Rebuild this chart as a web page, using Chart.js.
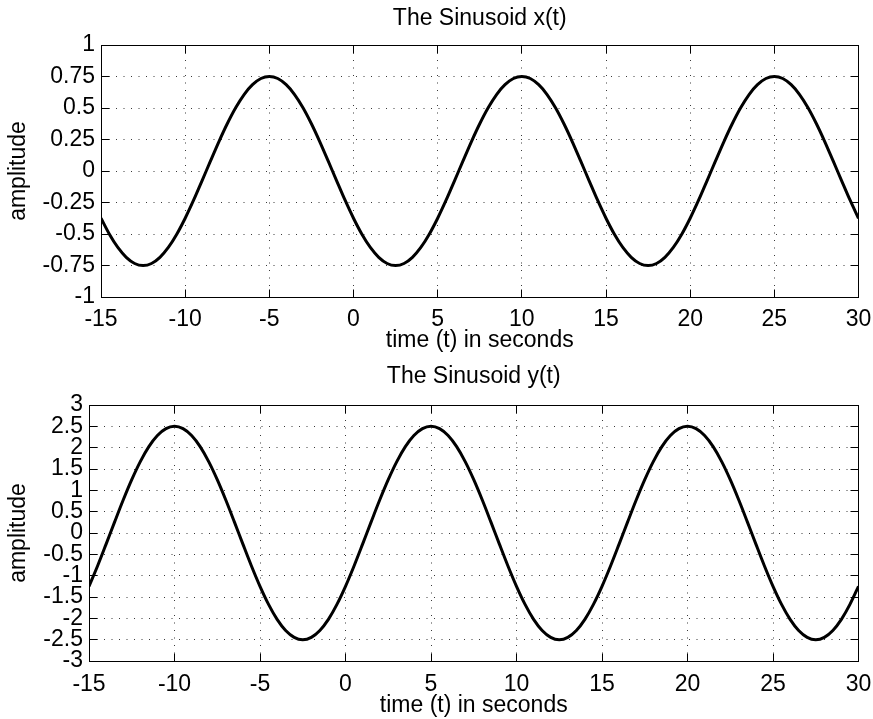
<!DOCTYPE html>
<html>
<head>
<meta charset="utf-8">
<title>The Sinusoid x(t) / y(t)</title>
<script src="https://cdn.jsdelivr.net/npm/chart.js@4.4.1/dist/chart.umd.min.js"></script>
<style>
  html, body { margin: 0; padding: 0; background: #fff; }
  #pagina { position: relative; width: 873px; height: 719px; overflow: hidden; }
  canvas { position: absolute; left: 0; }
  #graficoX { top: 0; }
  #graficoY { top: 358px; }
</style>
</head>
<body>
<div id="pagina">
  <canvas id="graficoX" width="873" height="358"></canvas>
  <canvas id="graficoY" width="873" height="361"></canvas>
</div>
<script>
// Time samples (seconds), read every half second off the picture
const tiempo = [
  -15, -14.5, -14, -13.5, -13, -12.5, -12, -11.5, -11, -10.5,
  -10, -9.5, -9, -8.5, -8, -7.5, -7, -6.5, -6, -5.5,
  -5, -4.5, -4, -3.5, -3, -2.5, -2, -1.5, -1, -0.5,
  0, 0.5, 1, 1.5, 2, 2.5, 3, 3.5, 4, 4.5,
  5, 5.5, 6, 6.5, 7, 7.5, 8, 8.5, 9, 9.5,
  10, 10.5, 11, 11.5, 12, 12.5, 13, 13.5, 14, 14.5,
  15, 15.5, 16, 16.5, 17, 17.5, 18, 18.5, 19, 19.5,
  20, 20.5, 21, 21.5, 22, 22.5, 23, 23.5, 24, 24.5,
  25, 25.5, 26, 26.5, 27, 27.5, 28, 28.5, 29, 29.5,
  30
];

// x(t) amplitude at each sample
const valoresX = [
  -0.375, -0.502, -0.607, -0.685, -0.734, -0.75, -0.734, -0.685, -0.607, -0.502,
  -0.375, -0.232, -0.078, 0.078, 0.232, 0.375, 0.502, 0.607, 0.685, 0.734,
  0.75, 0.734, 0.685, 0.607, 0.502, 0.375, 0.232, 0.078, -0.078, -0.232,
  -0.375, -0.502, -0.607, -0.685, -0.734, -0.75, -0.734, -0.685, -0.607, -0.502,
  -0.375, -0.232, -0.078, 0.078, 0.232, 0.375, 0.502, 0.607, 0.685, 0.734,
  0.75, 0.734, 0.685, 0.607, 0.502, 0.375, 0.232, 0.078, -0.078, -0.232,
  -0.375, -0.502, -0.607, -0.685, -0.734, -0.75, -0.734, -0.685, -0.607, -0.502,
  -0.375, -0.232, -0.078, 0.078, 0.232, 0.375, 0.502, 0.607, 0.685, 0.734,
  0.75, 0.734, 0.685, 0.607, 0.502, 0.375, 0.232, 0.078, -0.078, -0.232,
  -0.375
];

// y(t) amplitude at each sample
const valoresY = [
  -1.25, -0.773, -0.261, 0.261, 0.773, 1.25, 1.673, 2.023, 2.284, 2.445,
  2.5, 2.445, 2.284, 2.023, 1.673, 1.25, 0.773, 0.261, -0.261, -0.773,
  -1.25, -1.673, -2.023, -2.284, -2.445, -2.5, -2.445, -2.284, -2.023, -1.673,
  -1.25, -0.773, -0.261, 0.261, 0.773, 1.25, 1.673, 2.023, 2.284, 2.445,
  2.5, 2.445, 2.284, 2.023, 1.673, 1.25, 0.773, 0.261, -0.261, -0.773,
  -1.25, -1.673, -2.023, -2.284, -2.445, -2.5, -2.445, -2.284, -2.023, -1.673,
  -1.25, -0.773, -0.261, 0.261, 0.773, 1.25, 1.673, 2.023, 2.284, 2.445,
  2.5, 2.445, 2.284, 2.023, 1.673, 1.25, 0.773, 0.261, -0.261, -0.773,
  -1.25, -1.673, -2.023, -2.284, -2.445, -2.5, -2.445, -2.284, -2.023, -1.673,
  -1.25
];

// Tick values
const ticksTiempo = [-15, -10, -5, 0, 5, 10, 15, 20, 25, 30];
const ticksAmpX = [-1, -0.75, -0.5, -0.25, 0, 0.25, 0.5, 0.75, 1];
const ticksAmpY = [-3, -2.5, -2, -1.5, -1, -0.5, 0, 0.5, 1, 1.5, 2, 2.5, 3];

const FUENTE = '"Liberation Sans", Arial, Helvetica, sans-serif';
const fuenteTexto = { family: FUENTE, size: 23, weight: 'normal', lineHeight: 1.2 };

// Black frame with inward tick marks on all four sides
const marcoPlugin = {
    id: 'marco',
    afterDraw(chart) {
        const { ctx, chartArea, scales } = chart;
        const alinear = p => Math.round(p - 0.5) + 0.5;
        const izq = alinear(chartArea.left);
        const der = alinear(chartArea.right);
        const arriba = alinear(chartArea.top);
        const abajo = alinear(chartArea.bottom);
        const largo = 8;

        ctx.save();
        ctx.strokeStyle = '#000';
        ctx.lineWidth = 1;
        ctx.beginPath();
        scales.x.ticks.forEach(t => {
            const px = alinear(scales.x.getPixelForValue(t.value));
            ctx.moveTo(px, abajo);
            ctx.lineTo(px, abajo - largo);
            ctx.moveTo(px, arriba);
            ctx.lineTo(px, arriba + largo);
        });
        scales.y.ticks.forEach(t => {
            const py = alinear(scales.y.getPixelForValue(t.value));
            ctx.moveTo(izq, py);
            ctx.lineTo(izq + largo, py);
            ctx.moveTo(der, py);
            ctx.lineTo(der - largo, py);
        });
        ctx.stroke();
        ctx.strokeRect(izq, arriba, der - izq, abajo - arriba);
        ctx.restore();
    }
};

function crearGrafico(idCanvas, cfg) {
    const canvas = document.getElementById(idCanvas);
    if (!canvas) {
        console.error('No canvas ' + idCanvas);
        return;
    }

    const puntos = tiempo.map((t, i) => ({ x: t, y: cfg.valores[i] }));

    const rejilla = { color: '#3a3a3a', lineWidth: 1, drawTicks: false };
    const borde = { display: false, dash: [1, 6.5] };

    new Chart(canvas.getContext('2d'), {
        type: 'line',
        data: {
            datasets: [{
                data: puntos,
                borderColor: '#000',
                borderWidth: 3,
                pointRadius: 0,
                fill: false,
                cubicInterpolationMode: 'monotone'
            }]
        },
        options: {
            responsive: false,
            animation: false,
            events: [],
            layout: { padding: { left: 0, right: 14.5, top: 0, bottom: 0 } },
            plugins: {
                legend: { display: false },
                tooltip: { enabled: false },
                title: { display: false }
            },
            scales: {
                x: {
                    type: 'linear',
                    min: -15,
                    max: 30,
                    afterBuildTicks: s => { s.ticks = ticksTiempo.map(v => ({ value: v })); },
                    afterFit: s => {
                        s.height = cfg.altoEjeX;
                        s.paddingLeft = 0;
                        s.paddingRight = 0;
                    },
                    ticks: {
                        autoSkip: false,
                        maxRotation: 0,
                        padding: cfg.paddingTickX,
                        color: '#000',
                        font: fuenteTexto,
                        callback: v => String(v)
                    },
                    grid: rejilla,
                    border: borde,
                    title: {
                        display: true,
                        text: 'time (t) in seconds',
                        color: '#000',
                        font: fuenteTexto,
                        padding: { top: 0, bottom: cfg.paddingTituloX }
                    }
                },
                // top axis only carries the subplot title, centred over the plot box
                xArriba: {
                    type: 'linear',
                    position: 'top',
                    min: -15,
                    max: 30,
                    afterFit: s => {
                        s.height = cfg.altoTitulo;
                        s.paddingLeft = 0;
                        s.paddingRight = 0;
                    },
                    ticks: { display: false },
                    grid: { display: false, drawTicks: false },
                    border: { display: false },
                    title: {
                        display: true,
                        text: cfg.titulo,
                        color: '#000',
                        font: fuenteTexto,
                        padding: { top: 5.2, bottom: 0 }
                    }
                },
                y: {
                    type: 'linear',
                    min: cfg.ticksY[0],
                    max: cfg.ticksY[cfg.ticksY.length - 1],
                    afterBuildTicks: s => { s.ticks = cfg.ticksY.map(v => ({ value: v })); },
                    afterFit: s => {
                        s.width = cfg.anchoEjeY;
                        s.paddingTop = 0;
                        s.paddingBottom = 0;
                    },
                    ticks: {
                        autoSkip: false,
                        padding: 6,
                        color: '#000',
                        font: fuenteTexto,
                        callback: v => String(v)
                    },
                    grid: rejilla,
                    border: borde,
                    title: {
                        display: true,
                        text: 'amplitude',
                        color: '#000',
                        font: fuenteTexto,
                        padding: { top: 5.2, bottom: 0 }
                    }
                }
            }
        },
        plugins: [marcoPlugin]
    });
}

document.addEventListener('DOMContentLoaded', function () {
    crearGrafico('graficoX', {
        titulo: 'The Sinusoid x(t)',
        valores: valoresX,
        ticksY: ticksAmpX,
        anchoEjeY: 101,
        altoEjeX: 61,
        altoTitulo: 45,
        paddingTickX: 9,
        paddingTituloX: 3.2
    });

    crearGrafico('graficoY', {
        titulo: 'The Sinusoid y(t)',
        valores: valoresY,
        ticksY: ticksAmpY,
        anchoEjeY: 89,
        altoEjeX: 58,
        altoTitulo: 47,
        paddingTickX: 9.5,
        paddingTituloX: 0
    });
});
</script>
</body>
</html>
